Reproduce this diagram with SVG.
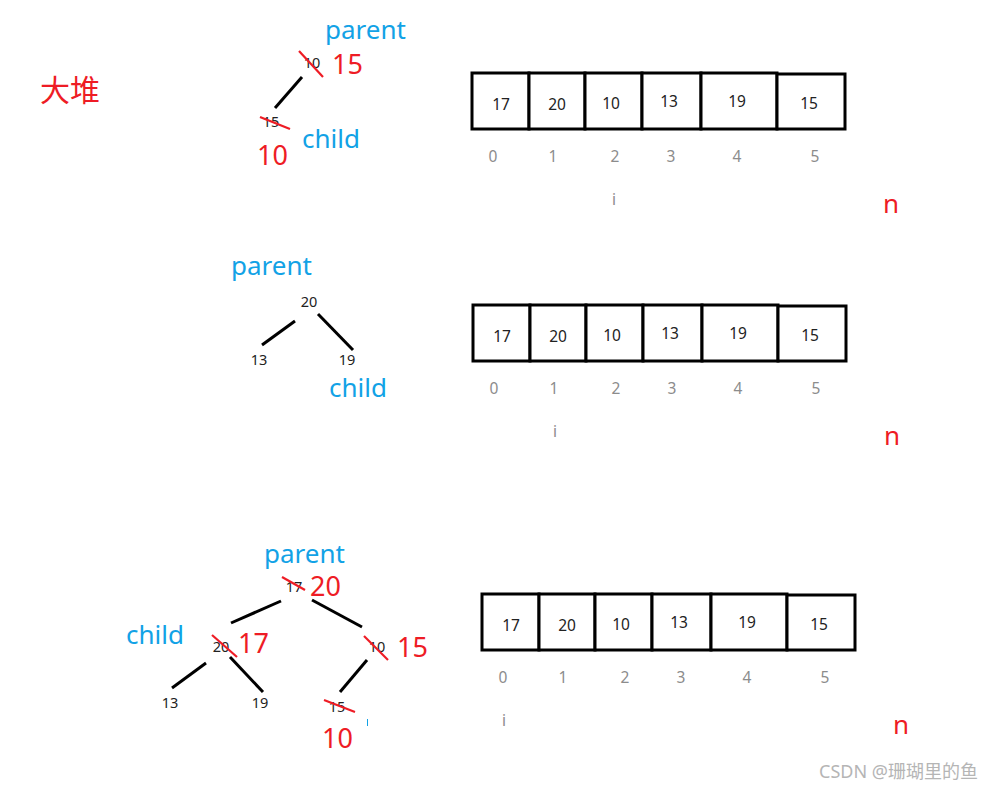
<svg xmlns="http://www.w3.org/2000/svg" width="983" height="789" viewBox="0 0 983 789">
<style>
.bg{fill:#fff}
text{font-family:"Noto Sans","Open Sans","Noto Sans CJK SC",sans-serif}
.blue{fill:#12a2e6;font-size:26px}
.red{fill:#ee1c25;font-size:27px}
.sm{fill:#222;font-size:14.5px;text-anchor:middle}
.num{fill:#222;font-size:15.5px;text-anchor:middle}
.idx{fill:#8c8c8c;font-size:15.5px;text-anchor:middle}
.cell{fill:#fff;stroke:#000;stroke-width:3}
.edge{stroke:#000;stroke-width:3;fill:none}
.strike{stroke:#ee1c25;stroke-width:2.2;fill:none}
.n{fill:#ee1c25;font-size:26px;text-anchor:middle}
</style>
<defs>
<g id="arr">
<rect class="cell" x="472" y="73" width="57" height="56"/>
<rect class="cell" x="529" y="73" width="56" height="56"/>
<rect class="cell" x="585" y="73" width="57" height="56"/>
<rect class="cell" x="642" y="73" width="59" height="56"/>
<rect class="cell" x="701" y="73" width="76" height="56"/>
<rect class="cell" x="777" y="74" width="68" height="55"/>
<text class="num" x="501" y="110">17</text>
<text class="num" x="557" y="110">20</text>
<text class="num" x="611" y="109">10</text>
<text class="num" x="669" y="107">13</text>
<text class="num" x="737" y="107">19</text>
<text class="num" x="809" y="109">15</text>
<text class="idx" x="493" y="162">0</text>
<text class="idx" x="553" y="162">1</text>
<text class="idx" x="615" y="162">2</text>
<text class="idx" x="671" y="162">3</text>
<text class="idx" x="737" y="162">4</text>
<text class="idx" x="815" y="162">5</text>
</g>
</defs>
<rect class="bg" x="0" y="0" width="983" height="789"/>

<text id="title" x="40" y="101" style="fill:#ee1c25;font-size:30px;font-family:'Noto Sans CJK SC',sans-serif">大堆</text>

<g id="connectors">
<line class="edge" x1="302" y1="77" x2="275" y2="108"/>
<line class="edge" x1="295" y1="321" x2="262" y2="345"/>
<line class="edge" x1="318" y1="314" x2="353" y2="350"/>
<line class="edge" x1="281" y1="601" x2="231" y2="623"/>
<line class="edge" x1="312" y1="600" x2="362" y2="627"/>
<line class="edge" x1="206" y1="663" x2="172" y2="688"/>
<line class="edge" x1="230" y1="657" x2="263" y2="692"/>
<line class="edge" x1="367" y1="660" x2="340" y2="692"/>
</g>

<!-- tree 1 -->
<g id="t1-root">
<text class="blue" x="325" y="39">parent</text>
<text class="sm" x="312" y="68">10</text>
<line class="strike" x1="299" y1="51" x2="323" y2="77"/>
<text class="red" x="332" y="74">15</text>
</g>
<g id="t1-child">
<text class="sm" x="271" y="127">15</text>
<line class="strike" x1="260" y1="117" x2="290" y2="129"/>
<text class="blue" x="302" y="148">child</text>
<text class="red" x="257" y="165">10</text>
</g>

<!-- tree 2 -->
<g id="t2-root">
<text class="blue" x="231" y="275">parent</text>
<text class="sm" x="309" y="307">20</text>
</g>
<g id="t2-left"><text class="sm" x="259" y="365">13</text></g>
<g id="t2-right">
<text class="sm" x="347" y="365">19</text>
<text class="blue" x="329" y="397">child</text>
</g>

<!-- tree 3 -->
<g id="t3-root">
<text class="blue" x="264" y="563">parent</text>
<text class="sm" x="294" y="592">17</text>
<line class="strike" x1="282" y1="577" x2="305" y2="590"/>
<text class="red" x="310" y="596">20</text>
</g>
<g id="t3-left">
<text class="blue" x="126" y="644">child</text>
<text class="sm" x="221" y="652">20</text>
<line class="strike" x1="212" y1="635" x2="237" y2="657"/>
<text class="red" x="238" y="653">17</text>
</g>
<g id="t3-right">
<text class="sm" x="377" y="652">10</text>
<line class="strike" x1="364" y1="636" x2="388" y2="660"/>
<text class="red" x="397" y="657">15</text>
</g>
<g id="t3-ll"><text class="sm" x="170" y="708">13</text></g>
<g id="t3-lr"><text class="sm" x="260" y="708">19</text></g>
<g id="t3-rl">
<text class="sm" x="337" y="712">15</text>
<line class="strike" x1="324" y1="700" x2="355" y2="712"/>
<text class="red" x="322" y="748">10</text>
<line x1="367.5" y1="719" x2="367.5" y2="726" stroke="#12a2e6" stroke-width="1"/>
</g>

<!-- arrays -->
<g id="array1">
<use href="#arr"/>
<text class="idx" x="614" y="205">i</text>
<text class="n" x="891" y="213">n</text>
</g>
<g id="array2">
<use href="#arr" transform="translate(1,232)"/>
<text class="idx" x="555" y="437">i</text>
<text class="n" x="892" y="445">n</text>
</g>
<g id="array3">
<use href="#arr" transform="translate(10,521)"/>
<text class="idx" x="504" y="726">i</text>
<text class="n" x="901" y="734">n</text>
</g>

<text id="watermark" x="978" y="778" text-anchor="end" style="fill:#b5b5b5;font-size:18px;font-family:'Noto Sans','Noto Sans CJK SC',sans-serif">CSDN @珊瑚里的鱼</text>
</svg>
